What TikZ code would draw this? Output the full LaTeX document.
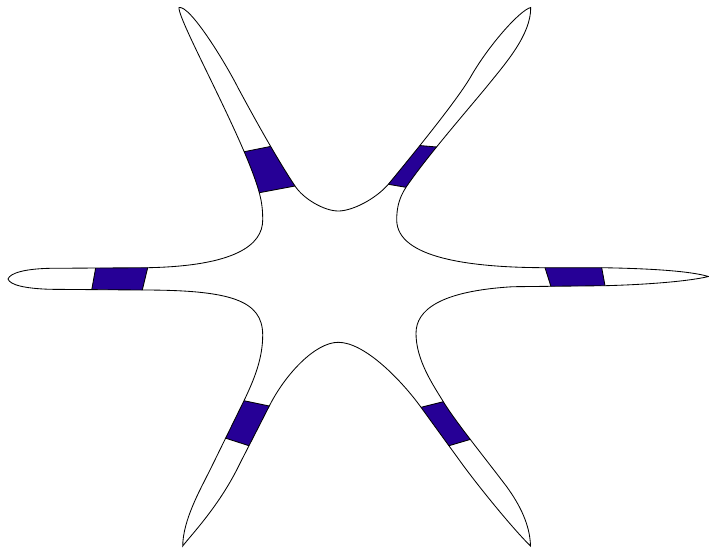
\documentclass[tikz,border=0pt]{standalone}
\usetikzlibrary{calc, math}
\definecolor{bandblue}{RGB}{38,0,150}

% outline of the six-armed star, going round from the left tip
\newcommand{\starshape}{
(8,279) .. controls (10,285) and (25,288.5) .. (50,289.3)
-- (142,290)
.. controls (230,290) and (262.7,300) .. (262.7,335)
.. controls (262.7,358) and (254.8,378.1) .. (244,400.7)
-- (210,470)
.. controls (200,490) and (183,520) .. (182.7,546)
.. controls (192,534) and (220,505) .. (240,463.3)
-- (269.3,406)
.. controls (285,374.7) and (315,342.3) .. (338.3,342.3)
.. controls (365,342.3) and (402,381) .. (421,407.3)
-- (460,461)
.. controls (475,482) and (512,528) .. (530.5,546)
.. controls (530,525) and (520,505) .. (506.7,486.7)
.. controls (485,458) and (455,421) .. (443.3,401.7)
.. controls (432.9,384.6) and (416,360) .. (416,333.3)
.. controls (416,310) and (440,291) .. (513,286.7)
-- (605,285.7)
.. controls (650,284.5) and (690,281) .. (708.5,276.5)
.. controls (690,271) and (650,268.5) .. (601.7,267.7)
-- (545,267.7)
.. controls (470,267.5) and (397,258) .. (396.7,220)
.. controls (396.7,208) and (399,198) .. (406,187.3)
.. controls (425,159) and (465,113) .. (486.7,86.7)
.. controls (505,64) and (531,35) .. (530.7,7.5)
.. controls (520,10) and (488,46) .. (470,78)
.. controls (455,103) and (410,158) .. (388.3,184.3)
.. controls (375.2,199.4) and (352,211) .. (338.3,211)
.. controls (324,211) and (303.2,198.6) .. (295,186)
.. controls (275,156) and (250,110) .. (238.3,88.3)
.. controls (225,62) and (190,5) .. (179,7.5)
.. controls (177.5,20) and (245,140) .. (259.3,192.7)
.. controls (262,203) and (262.7,210) .. (262.7,220)
.. controls (262.7,245) and (235,266) .. (147.7,267.7)
-- (50,268.3)
.. controls (25,268.8) and (10,273) .. (8,279)
-- cycle
}

% one blue band across an arm: a--b is one cut, c--d the other (c on the same edge as a)
\newcommand{\armband}[4]{
\filldraw[band] ($(#1)!-\ext!(#2)$) -- ($(#2)!-\ext!(#1)$) -- ($(#4)!-\ext!(#3)$) -- ($(#3)!-\ext!(#4)$) -- cycle;
}

\begin{document}
\begin{tikzpicture}[x=0.025cm, y=-0.025cm,
outline/.style={line width=0.6pt},
band/.style={fill=bandblue, draw=black, line width=0.6pt}]
\tikzmath{
\ext=0.5;
}
\useasboundingbox (0,0) rectangle (709,548);

\begin{scope}
\clip \starshape;
\armband{95.7,267.7}{91.7,290}{147.7,267.7}{142.3,290}
\armband{545,267.7}{550.7,285.7}{601.7,267.7}{605,285.7}
\armband{244.3,151.7}{269.3,146.7}{259.3,192.7}{295,186}
\armband{421.7,145.7}{433.3,146.7}{388.3,184.3}{406,187.3}
\armband{244,400.7}{269.3,406}{226,438.3}{249,445.7}
\armband{421,407.3}{443.3,401.7}{449,445.7}{468.3,440}
\end{scope}

\draw[outline] \starshape;
\end{tikzpicture}
\end{document}
